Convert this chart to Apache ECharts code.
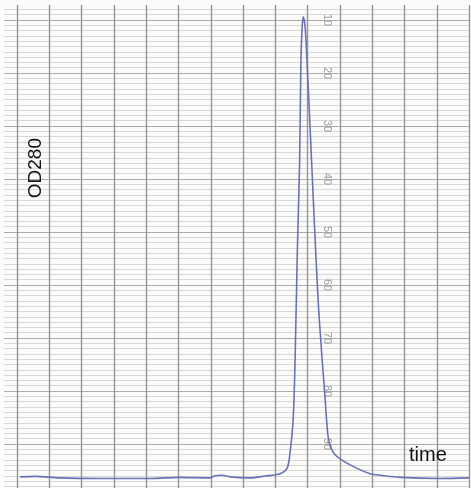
<!DOCTYPE html>
<html>
<head>
<meta charset="utf-8">
<script src="https://cdn.jsdelivr.net/npm/echarts@6/dist/echarts.min.js"></script>
<style>
html,body{margin:0;padding:0;background:#fbfbf9;overflow:hidden;width:471px;height:488px;}
#wrap{position:relative;width:471px;height:488px;overflow:hidden;}
#c{position:absolute;left:-16px;top:-36px;width:490px;height:536px;}
</style>
</head>
<body>
<div id="wrap"><div id="c"></div></div>
<script>
// recorder trace: time (chart divisions) vs. pen position (chart scale, 0 at top)
const timeValues = [1.09, 1.56, 2.33, 3.57, 5.12, 6.05, 6.98, 7.13, 7.35, 7.59, 8.21, 8.68, 9.14, 9.36, 9.45, 9.55, 9.61, 9.68, 9.75, 9.79, 9.82, 9.86, 9.92, 9.98, 10.12, 10.26, 10.36, 10.54, 10.64, 10.78, 11.0, 11.53, 11.93, 12.24, 12.86, 14.1, 15.0];
const chartValues = [96.2, 96.1, 96.4, 96.5, 96.5, 96.3, 96.4, 96.0, 95.9, 96.2, 96.4, 96.05, 95.6, 94.6, 91.8, 85.3, 74.0, 53.4, 36.6, 17.9, 12.3, 9.4, 11.3, 17.9, 36.6, 55.3, 66.6, 81.5, 89.0, 91.5, 92.8, 94.6, 95.6, 95.9, 96.3, 96.5, 96.4];
const scaleLabels = ['10', '20', '30', '40', '50', '60', '70', '80', '90'];
const yAxisTitle = 'OD280';
const xAxisTitle = 'time';

// chart canvas is shifted by (-16, -36) relative to the page
const OX = 16, OY = 36;
const chart = echarts.init(document.getElementById('c'), null, {renderer: 'canvas'});
const seriesData = timeValues.map((t, i) => [t, chartValues[i]]);
chart.setOption({
  backgroundColor: '#fbfbf9',
  animation: false,
  grid: {left: 0.7, top: 0.6, width: 484.5, height: 534},
  xAxis: {
    type: 'value', min: 0, max: 15, interval: 1,
    axisLine: {show: false}, axisTick: {show: false}, axisLabel: {show: false},
    splitLine: {show: true, lineStyle: {color: '#959595', width: 1.4}}
  },
  yAxis: {
    type: 'value', min: 0, max: 100, interval: 10, inverse: true,
    position: 'right', offset: -142,
    axisLine: {show: false}, axisTick: {show: false},
    axisLabel: {
      show: true, margin: 0, rotate: -90, align: 'center', verticalAlign: 'middle',
      color: '#9c9c9c', fontSize: 11, fontFamily: 'Liberation Sans, Arial, sans-serif',
      formatter: v => { const s = String(v); return scaleLabels.indexOf(s) >= 0 ? s : ''; }
    },
    splitLine: {show: true, lineStyle: {color: '#ababab', width: 1.2}},
    minorTick: {show: false, splitNumber: 10},
    minorSplitLine: {show: true, lineStyle: {color: '#d8d8d8', width: 1}}
  },
  series: [{
    type: 'line', data: seriesData, showSymbol: false, smooth: 0.3,
    lineStyle: {color: '#6a72b6', width: 1.6}, z: 5
  }],
  graphic: [
    {type: 'rect', left: 0, top: 0, z: 1, silent: true,
     shape: {width: 490, height: OY + 5}, style: {fill: '#fbfbf9'}},
    {type: 'rect', left: 0, top: 0, z: 1, silent: true,
     shape: {width: OX + 4, height: 536}, style: {fill: '#fbfbf9'}},
    {type: 'text', left: 26 + OX, top: 138 + OY, rotation: Math.PI / 2, z: 10,
     style: {text: yAxisTitle, fontSize: 19, fill: '#111', fontFamily: 'Liberation Sans, Arial, sans-serif'}},
    {type: 'text', left: 409 + OX, top: 445 + OY, z: 10,
     style: {text: xAxisTitle, fontSize: 20, fill: '#111', fontFamily: 'Liberation Sans, Arial, sans-serif'}}
  ]
});
</script>
</body>
</html>
